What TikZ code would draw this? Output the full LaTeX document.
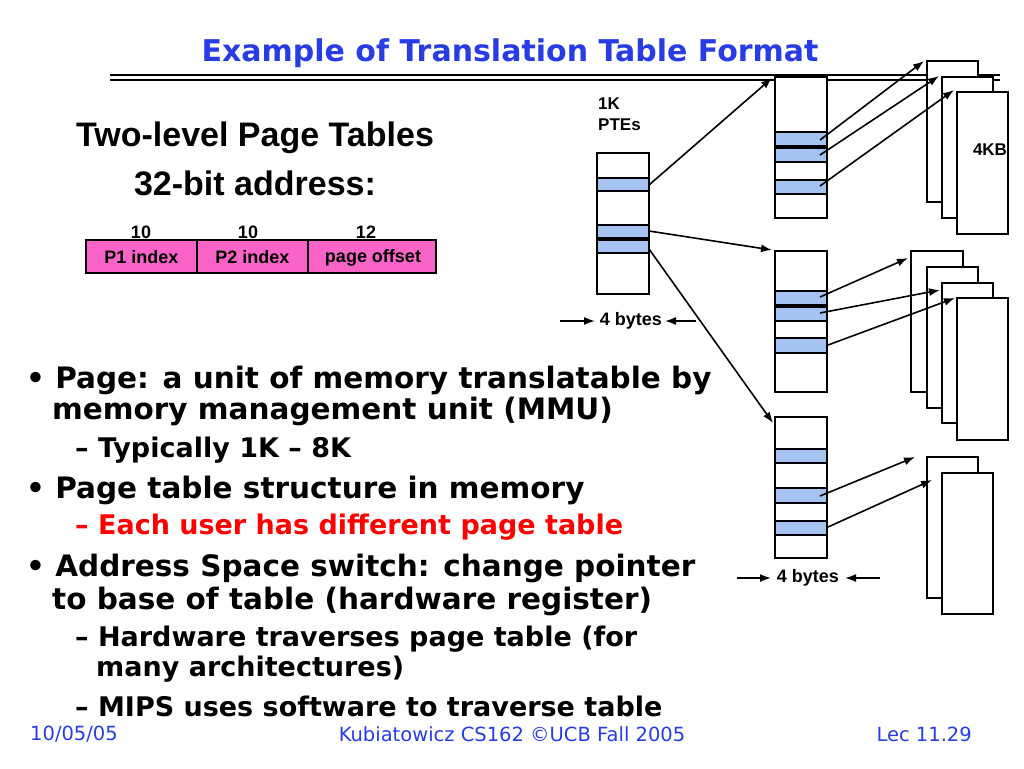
\documentclass[tikz,border=0pt]{standalone}
\usepackage{fontspec}
\setmainfont{Liberation Sans}
\newfontfamily\comic{DejaVu Sans}
\usetikzlibrary{arrows.meta}
\begin{document}
\begin{tikzpicture}[x=1pt,y=-1pt,
  tbl/.style={draw,line width=2pt,fill=white},
  band/.style={draw,line width=2pt,fill=bandblue},
  pg/.style={draw,line width=2pt,fill=white},
  ar/.style={-{Latex[length=11pt,width=8pt]},line width=1.6pt},
  lbl/.style={font=\bfseries\fontsize{18}{21}\selectfont,inner sep=0pt},
  bul/.style={font=\comic\bfseries\fontsize{29.5}{33}\selectfont,anchor=west,inner sep=0pt},
  sub/.style={font=\comic\bfseries\fontsize{27}{31}\selectfont,anchor=west,inner sep=0pt},
  foot/.style={font=\comic\fontsize{19.5}{22}\selectfont,text=titleblue,inner sep=0pt}]
\definecolor{bandblue}{RGB}{165,195,240}
\definecolor{titleblue}{RGB}{40,60,230}
\definecolor{pinkbox}{RGB}{250,100,200}
\useasboundingbox (0,0) rectangle (1024,768);
% title
\node[font=\comic\bfseries\fontsize{30}{34}\selectfont,text=titleblue,inner sep=0pt] (title) at (510,53) {Example of Translation Table Format};
\draw[line width=2pt] (110,75) -- (1000,75);
\draw[line width=2pt] (110,79.5) -- (1000,79.5);
% heading
\node[font=\bfseries\fontsize{34}{38}\selectfont,inner sep=0pt] (h1) at (255,138) {Two-level Page Tables};
\node[font=\bfseries\fontsize{34}{38}\selectfont,inner sep=0pt] (h2) at (255,183) {32-bit address:};
% address
\draw[line width=2pt,fill=pinkbox] (86,240) rectangle (436,273);
\draw[line width=2pt] (197,240) -- (197,273) (308,240) -- (308,273);
\node[lbl] (p1) at (141.5,257) {P1 index};
\node[lbl] (p2) at (252.5,257) {P2 index};
\node[lbl] (po) at (373,258) {page offset};
\node[lbl] (n1) at (141,232) {10};
\node[lbl] (n2) at (248,232) {10};
\node[lbl] (n3) at (366,232) {12};
% L1 table
\draw[tbl] (597,153) rectangle (649,294);
\draw[band] (597,178) rectangle (649,191);
\draw[band] (597,225) rectangle (649,238);
\draw[band] (597,240) rectangle (649,253);
\node[lbl,align=left,anchor=north west,font=\bfseries\fontsize{17}{21}\selectfont] (pte) at (598,98) {1K\\PTEs};
% top L2
\draw[tbl] (775,77) rectangle (827,218);
\draw[band] (775,132) rectangle (827,146);
\draw[band] (775,148) rectangle (827,162);
\draw[band] (775,180) rectangle (827,194);
% middle L2
\draw[tbl] (775,251) rectangle (827,392);
\draw[band] (775,291) rectangle (827,305);
\draw[band] (775,307) rectangle (827,321);
\draw[band] (775,338) rectangle (827,353);
% bottom L2
\draw[tbl] (775,417) rectangle (827,558);
\draw[band] (775,449) rectangle (827,463);
\draw[band] (775,488) rectangle (827,503);
\draw[band] (775,521) rectangle (827,535);
% top pages
\draw[pg] (927,61) rectangle (978,202);
\draw[pg] (942,77) rectangle (993,218);
\draw[pg] (957,92) rectangle (1008,234);
\node[lbl,font=\bfseries\fontsize{17}{21}\selectfont] (kb) at (990,150) {4KB};
% middle pages
\draw[pg] (911,251) rectangle (963,392);
\draw[pg] (927,267) rectangle (978,408);
\draw[pg] (942,283) rectangle (993,423);
\draw[pg] (957,298) rectangle (1008,440);
% bottom pages
\draw[pg] (927,457) rectangle (978,598);
\draw[pg] (942,473) rectangle (993,614);
% L1 arrows
\draw[ar] (649,185) -- (772,78);
\draw[ar] (649,231) -- (772,250);
\draw[ar] (649,249) -- (773,423);
% top arrows
\draw[ar] (820,140) -- (924,61);
\draw[ar] (820,155) -- (939,76);
\draw[ar] (820,186) -- (954,90);
% middle arrows
\draw[ar] (820,297) -- (908,258);
\draw[ar] (820,313) -- (940,290);
\draw[ar] (828,345) -- (955,298);
% bottom arrows
\draw[ar] (820,496) -- (915,457);
\draw[ar] (828,527) -- (932,480);
% 4 bytes
\node[lbl] (b1) at (631,321) {4 bytes};
\draw[ar] (560,321) -- (595,321);
\draw[ar] (696,321) -- (665,321);
\node[lbl] (b2) at (808,578) {4 bytes};
\draw[ar] (737,578) -- (771,578);
\draw[ar] (880,578) -- (845,578);
% bullets
\node[bul] (t1) at (26,380) {\textbullet\ Page: a unit of memory translatable by};
\node[bul] (t2) at (52,411) {memory management unit (MMU)};
\node[sub] (t3) at (75,450) {– Typically 1K – 8K};
\node[bul] (t4) at (26,490) {\textbullet\ Page table structure in memory};
\node[sub,text=red] (t5) at (75,527) {– Each user has different page table};
\node[bul] (t6) at (26,568) {\textbullet\ Address Space switch: change pointer};
\node[bul] (t7) at (52,601) {to base of table (hardware register)};
\node[sub] (t8) at (75,639) {– Hardware traverses page table (for};
\node[sub] (t9) at (96,669) {many architectures)};
\node[sub] (t10) at (75,706) {– MIPS uses software to traverse table};
% footer
\node[foot,anchor=west] (f1) at (30,734) {10/05/05};
\node[foot] (f2) at (512,734) {Kubiatowicz CS162 ©UCB Fall 2005};
\node[foot,anchor=east] (f3) at (972,734) {Lec 11.29};
\end{tikzpicture}
\end{document}
